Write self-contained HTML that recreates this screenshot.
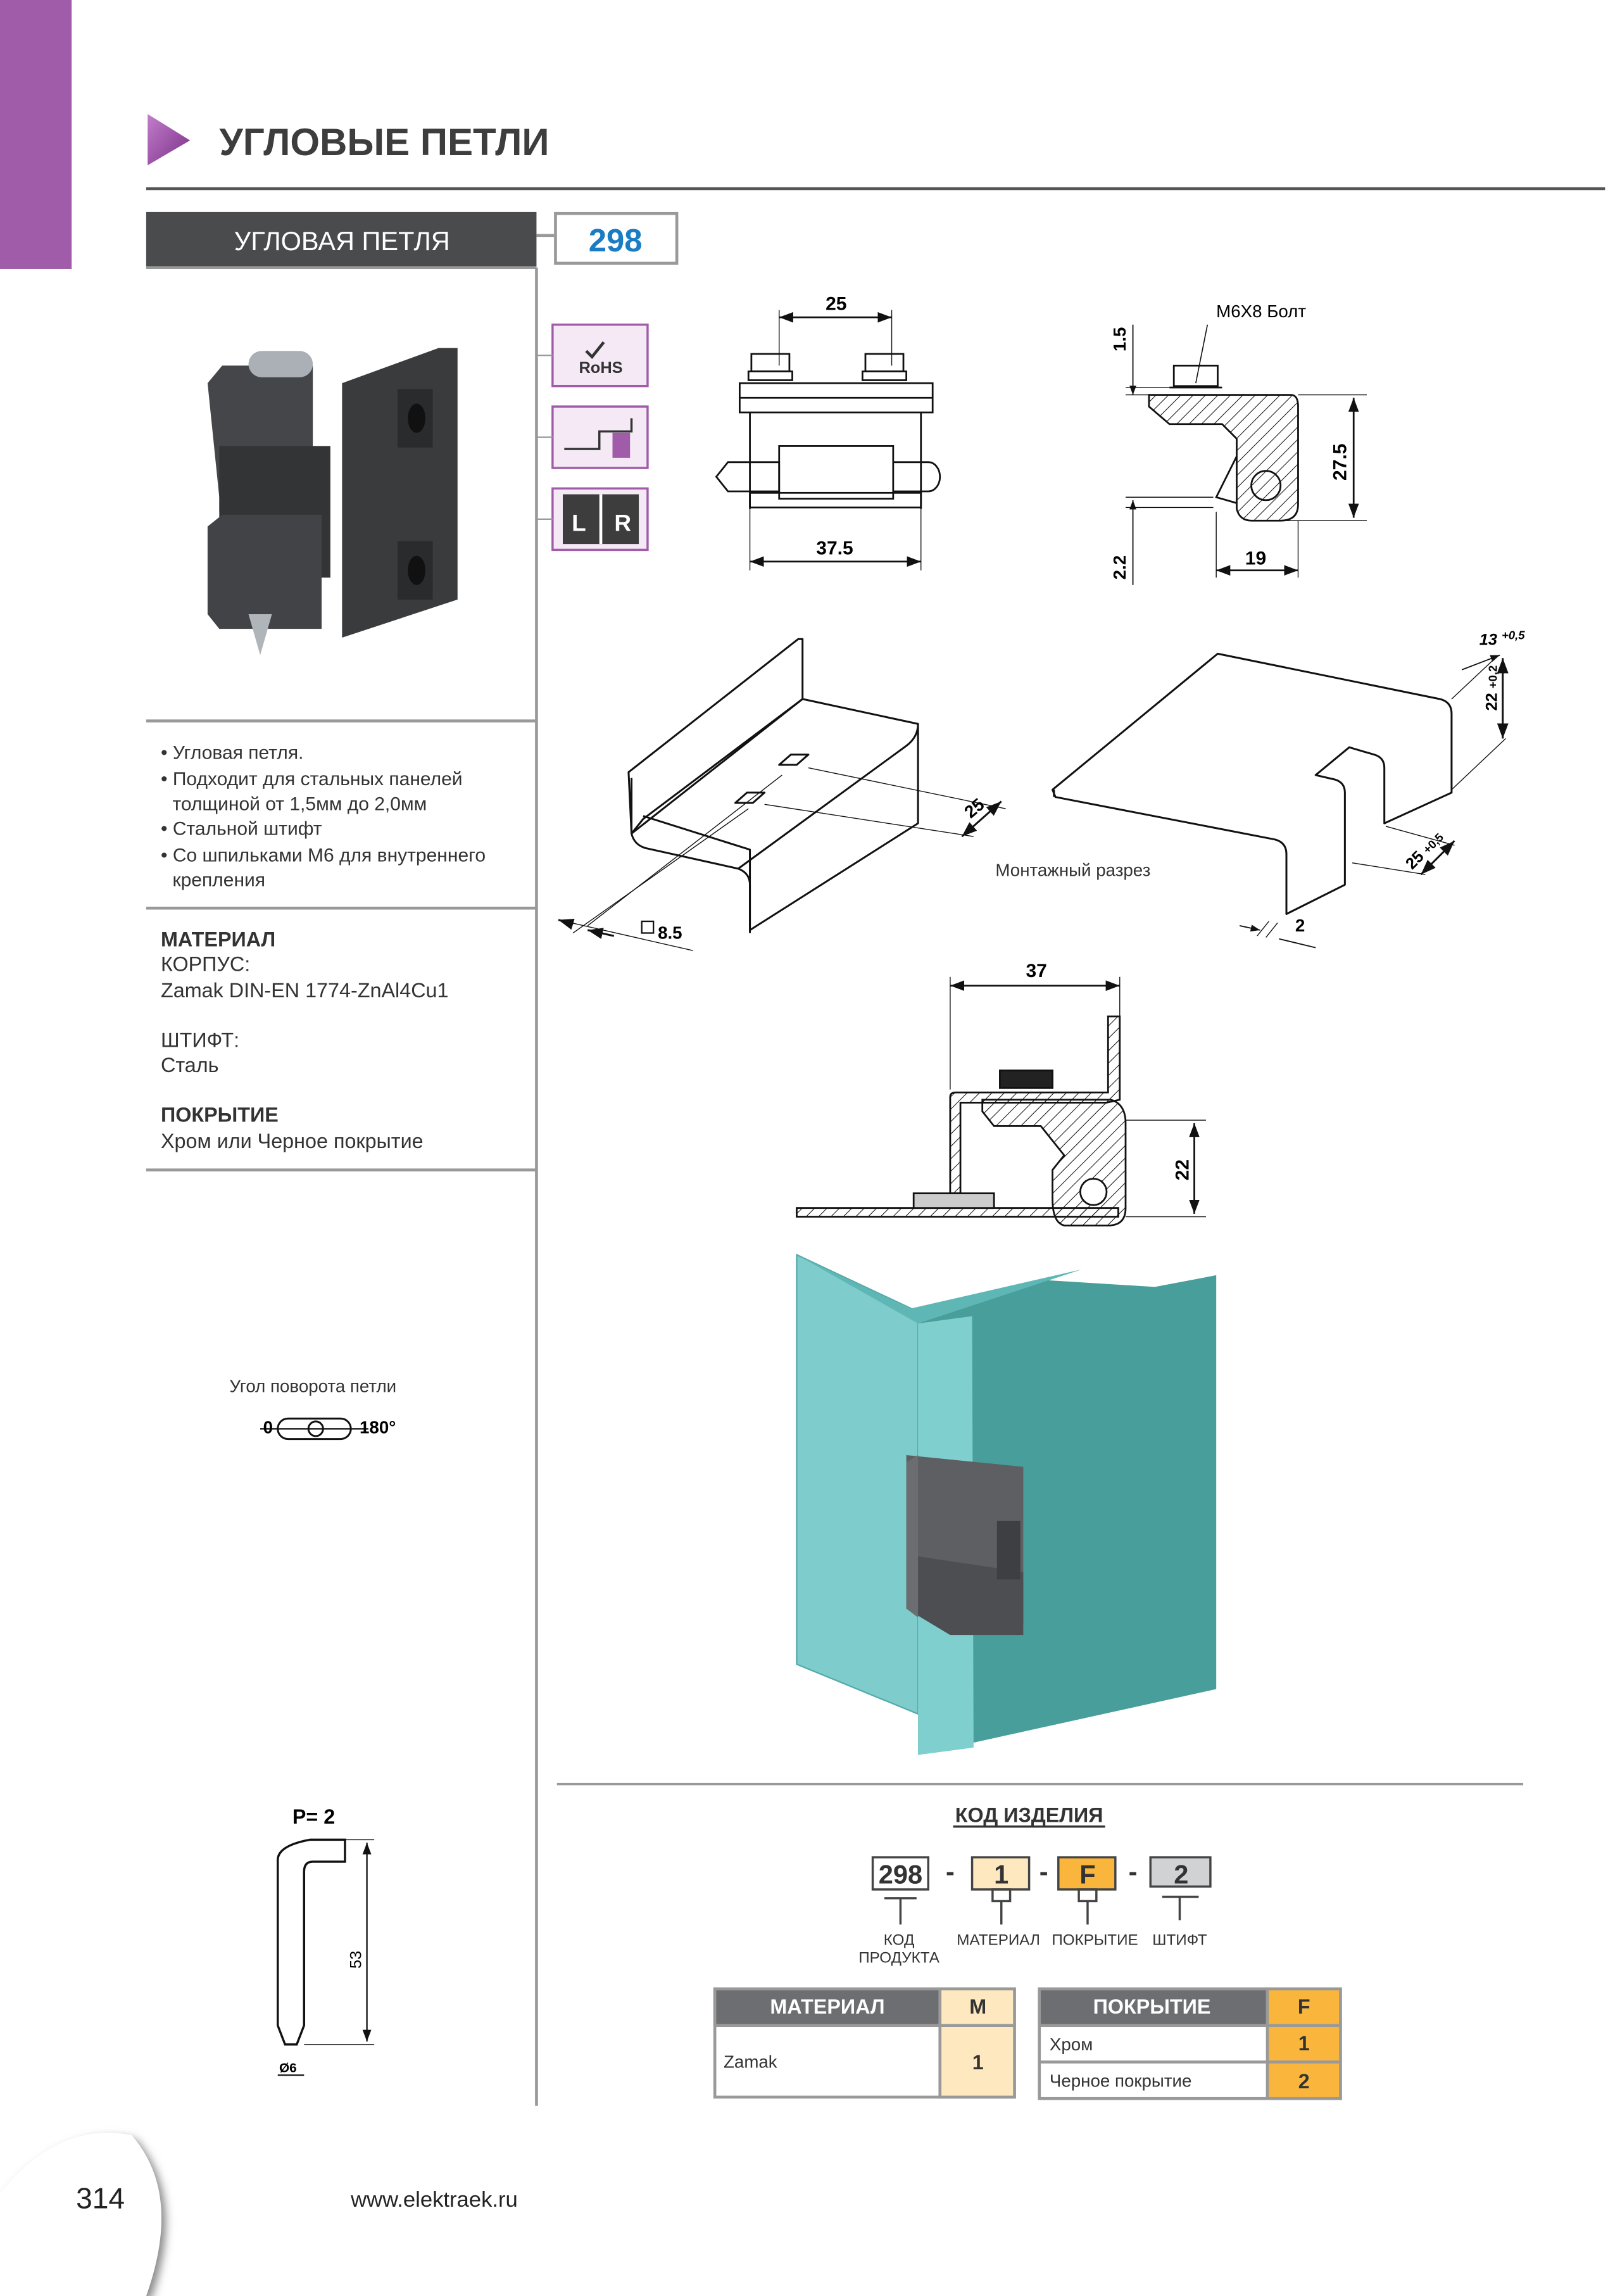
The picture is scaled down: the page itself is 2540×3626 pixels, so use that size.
<!DOCTYPE html>
<html><head><meta charset="utf-8"><style>
html,body{margin:0;padding:0;background:#fff}
svg{display:block}
text{font-family:"Liberation Sans",sans-serif}
</style></head><body>
<svg width="2540" height="3626" viewBox="0 0 1100 1570" preserveAspectRatio="none" xmlns="http://www.w3.org/2000/svg">
<defs>
<pattern id="h" width="6" height="6" patternUnits="userSpaceOnUse" patternTransform="rotate(45)"><line x1="0" y1="0" x2="0" y2="6" stroke="#111" stroke-width="0.9"/></pattern>
<linearGradient id="tg" x1="0" y1="0" x2="1" y2="1"><stop offset="0" stop-color="#c27ecb"/><stop offset="1" stop-color="#7a2f88"/></linearGradient>
<marker id="a" markerWidth="8" markerHeight="6" refX="8" refY="3" orient="auto-start-reverse"><path d="M0,0L8,3L0,6z" fill="#111"/></marker>
<filter id="sh"><feDropShadow dx="3" dy="3" stdDeviation="3" flood-color="#888"/></filter>
</defs>
<rect x="0" y="0" width="49" height="184" fill="#a05ca8"/>
<path d="M101,78L130,96L101,113z" fill="url(#tg)"/>
<text x="150" y="106" font-size="26" font-weight="bold" fill="#3d3d3d">УГЛОВЫЕ ПЕТЛИ</text>
<line x1="100" y1="129" x2="1098" y2="129" stroke="#555" stroke-width="2"/>
<rect x="100" y="145" width="267" height="38" fill="#4a4b4d"/>
<line x1="100" y1="183" x2="367" y2="183" stroke="#999" stroke-width="2"/>
<text x="234" y="171" font-size="18" fill="#fff" text-anchor="middle">УГЛОВАЯ ПЕТЛЯ</text>
<line x1="367" y1="161" x2="379" y2="161" stroke="#999" stroke-width="2"/>
<rect x="380" y="146" width="83" height="34" fill="#fff" stroke="#999" stroke-width="2"/>
<text x="421" y="172" font-size="22" font-weight="bold" fill="#1a7cc4" text-anchor="middle">298</text>
<line x1="367" y1="183" x2="367" y2="1440" stroke="#999" stroke-width="2"/>
<!-- icons -->
<g stroke="#a05ca8" stroke-width="1.5" fill="#f4e9f5">
<rect x="378" y="222" width="65" height="42"/><rect x="378" y="278" width="65" height="42"/><rect x="378" y="334" width="65" height="42"/>
</g>
<line x1="367" y1="243" x2="378" y2="243" stroke="#999"/><line x1="367" y1="299" x2="378" y2="299" stroke="#999"/><line x1="367" y1="355" x2="378" y2="355" stroke="#999"/>
<path d="M401,240l4,4l8,-10" stroke="#333" stroke-width="2" fill="none"/>
<text x="411" y="255" font-size="11" font-weight="bold" fill="#333" text-anchor="middle">RoHS</text>
<path d="M386,307H410V295H432V286" stroke="#333" stroke-width="1.5" fill="none"/>
<rect x="419" y="296" width="12" height="17" fill="#a05ca8"/>
<rect x="385" y="338" width="52" height="34" fill="#3d3d3d"/>
<line x1="411" y1="338" x2="411" y2="372" stroke="#fff" stroke-width="2"/>
<text x="396" y="363" font-size="16" font-weight="bold" fill="#fff" text-anchor="middle">L</text>
<text x="426" y="363" font-size="16" font-weight="bold" fill="#fff" text-anchor="middle">R</text>
<!-- product image -->
<g>
<path d="M234,262L300,238H313V410L234,436z" fill="#3a3b3d"/>
<path d="M142,262L152,250H214V350H150V340z" fill="#45464a"/>
<path d="M150,305H226V395H150z" fill="#333436"/>
<path d="M142,360L152,352H220V430H150L142,420z" fill="#424346"/>
<rect x="170" y="240" width="44" height="18" rx="9" fill="#aab0b5"/>
<path d="M170,420L178,448L186,420z" fill="#b0b5ba"/>
<path d="M272,266h24v40h-24z" fill="#2a2b2d"/><ellipse cx="285" cy="286" rx="6" ry="10" fill="#111"/>
<path d="M272,370h24v40h-24z" fill="#2a2b2d"/><ellipse cx="285" cy="390" rx="6" ry="10" fill="#111"/>
</g>
<line x1="100" y1="493" x2="367" y2="493" stroke="#999" stroke-width="2"/>
<g font-size="13" fill="#333">
<text x="110" y="519">• Угловая петля.</text>
<text x="110" y="537">• Подходит для стальных панелей</text>
<text x="118" y="554">толщиной от 1,5мм до 2,0мм</text>
<text x="110" y="571">• Стальной штифт</text>
<text x="110" y="589">• Со шпильками М6 для внутреннего</text>
<text x="118" y="606">крепления</text>
</g>
<line x1="100" y1="621" x2="367" y2="621" stroke="#999" stroke-width="2"/>
<g font-size="14" fill="#333">
<text x="110" y="647" font-weight="bold">МАТЕРИАЛ</text>
<text x="110" y="664">КОРПУС:</text>
<text x="110" y="682">Zamak DIN-EN 1774-ZnAl4Cu1</text>
<text x="110" y="716">ШТИФТ:</text>
<text x="110" y="733">Сталь</text>
<text x="110" y="767" font-weight="bold">ПОКРЫТИЕ</text>
<text x="110" y="785">Хром или Черное покрытие</text>
</g>
<line x1="100" y1="800" x2="367" y2="800" stroke="#999" stroke-width="2"/>
<text x="157" y="952" font-size="12" fill="#333">Угол поворота петли</text>
<rect x="190" y="970" width="50" height="14" rx="7" fill="none" stroke="#111" stroke-width="1.3"/>
<circle cx="216" cy="977" r="5" fill="none" stroke="#111" stroke-width="1.3"/>
<line x1="178" y1="977" x2="252" y2="977" stroke="#111"/>
<text x="180" y="980" font-size="12" font-weight="bold">0</text>
<text x="246" y="980" font-size="12" font-weight="bold">180°</text>
<!-- pin -->
<text x="200" y="1247" font-size="14" font-weight="bold">P= 2</text>
<path d="M190,1385V1272Q190,1262 212,1258H236V1273H214Q208,1273 208,1280V1385L203,1398H195z" fill="none" stroke="#111" stroke-width="1.5"/>
<line x1="236" y1="1258" x2="256" y2="1258" stroke="#111" stroke-width="0.6"/>
<line x1="208" y1="1398" x2="256" y2="1398" stroke="#111" stroke-width="0.6"/>
<line x1="251" y1="1260" x2="251" y2="1396" stroke="#111" marker-start="url(#a)" marker-end="url(#a)"/>
<text x="247" y="1340" font-size="11" transform="rotate(-90 247 1340)" text-anchor="middle">53</text>
<text x="191" y="1417" font-size="9" font-weight="bold">Ø6</text>
<line x1="190" y1="1419" x2="208" y2="1419" stroke="#111"/>
<!-- footer -->
<path d="M0,1570V1500Q40,1450 90,1460Q125,1500 100,1570z" fill="#fff" filter="url(#sh)"/>
<text x="52" y="1510" font-size="20" fill="#222">314</text>
<text x="240" y="1509" font-size="15" fill="#222">www.elektraek.ru</text>

<!-- Top drawing 1 -->
<g stroke="#111" stroke-width="1.2" fill="none">
<line x1="533" y1="217" x2="610" y2="217" marker-start="url(#a)" marker-end="url(#a)"/>
<line x1="533" y1="212" x2="533" y2="250" stroke-width="0.6"/><line x1="610" y1="212" x2="610" y2="250" stroke-width="0.6"/>
<rect x="506" y="262" width="132" height="20"/><line x1="506" y1="272" x2="638" y2="272"/>
<rect x="514" y="242" width="26" height="12"/><rect x="592" y="242" width="26" height="12"/>
<rect x="512" y="254" width="30" height="6"/><rect x="590" y="254" width="30" height="6"/>
<line x1="513" y1="282" x2="513" y2="348"/><line x1="630" y1="282" x2="630" y2="348"/>
<rect x="533" y="305" width="78" height="36"/>
<path d="M498,316H533V336H498L490,326z"/>
<path d="M611,316H635a8,10 0 0 1 0,20H611"/>
<rect x="513" y="337" width="117" height="10"/>
<line x1="513" y1="348" x2="513" y2="390" stroke-width="0.6"/><line x1="630" y1="348" x2="630" y2="390" stroke-width="0.6"/>
<line x1="513" y1="384" x2="630" y2="384" marker-start="url(#a)" marker-end="url(#a)"/>
</g>
<text x="572" y="212" font-size="13" font-weight="bold" text-anchor="middle">25</text>
<text x="571" y="379" font-size="13" font-weight="bold" text-anchor="middle">37.5</text>
<!-- Top drawing 2 -->
<g stroke="#111" stroke-width="1.2" fill="none">
<path d="M786,270H883Q888,270 888,278V345Q888,356 876,356H856Q848,356 846,348V300L836,290H800L786,278z" fill="url(#h)"/>
<rect x="803" y="250" width="30" height="14"/><line x1="800" y1="265" x2="836" y2="265"/>
<circle cx="866" cy="332" r="10"/>
<path d="M846,312L832,340L846,344" />
<line x1="775" y1="222" x2="775" y2="270" marker-end="url(#a)" stroke-width="0.8"/>
<line x1="775" y1="400" x2="775" y2="342" marker-end="url(#a)" stroke-width="0.8"/>
<line x1="770" y1="265" x2="800" y2="265" stroke-width="0.6"/><line x1="770" y1="270" x2="786" y2="270" stroke-width="0.6"/>
<line x1="770" y1="340" x2="830" y2="340" stroke-width="0.6"/><line x1="770" y1="347" x2="830" y2="347" stroke-width="0.6"/>
<line x1="888" y1="270" x2="935" y2="270" stroke-width="0.6"/><line x1="876" y1="356" x2="935" y2="356" stroke-width="0.6"/>
<line x1="926" y1="272" x2="926" y2="354" marker-start="url(#a)" marker-end="url(#a)"/>
<line x1="832" y1="350" x2="832" y2="395" stroke-width="0.6"/><line x1="888" y1="356" x2="888" y2="395" stroke-width="0.6"/>
<line x1="832" y1="390" x2="888" y2="390" marker-start="url(#a)" marker-end="url(#a)"/>
<line x1="818" y1="262" x2="826" y2="222" stroke-width="0.7"/>
</g>
<text x="832" y="217" font-size="12">M6X8  Болт</text>
<text x="770" y="232" font-size="12" font-weight="bold" transform="rotate(-90 770 232)" text-anchor="middle">1.5</text>
<text x="770" y="388" font-size="12" font-weight="bold" transform="rotate(-90 770 388)" text-anchor="middle">2.2</text>
<text x="921" y="316" font-size="13" font-weight="bold" transform="rotate(-90 921 316)" text-anchor="middle">27.5</text>
<text x="859" y="386" font-size="13" font-weight="bold" text-anchor="middle">19</text>
<!-- Iso 1 -->
<g stroke="#111" stroke-width="1.3" fill="none" stroke-linejoin="round">
<path d="M430,528L546,437H549V478L432,570Z"/>
<path d="M432,570L440,560L549,478L628,495V563L513,636V581L440,558"/>
<path d="M432,532V570Q434,578 442,580L505,594Q513,597 513,605V638"/>
<path d="M505,594L620,510Q628,504 628,495"/>
<path d="M533,523l8,-7h12l-8,7z M503,549l8,-7h12l-8,7z"/>
<line x1="553" y1="525" x2="688" y2="553" stroke-width="0.6"/><line x1="523" y1="550" x2="666" y2="572" stroke-width="0.6"/>
<line x1="685" y1="548" x2="658" y2="572" marker-start="url(#a)" marker-end="url(#a)"/>
<line x1="512" y1="553" x2="392" y2="638" stroke-width="0.6"/><line x1="535" y1="530" x2="402" y2="633" stroke-width="0.6"/>
<line x1="382" y1="629" x2="474" y2="650" stroke-width="0.6"/>
<line x1="392" y1="632" x2="382" y2="629" marker-end="url(#a)"/><line x1="420" y1="640" x2="402" y2="636" marker-end="url(#a)"/>
</g>
<text x="664" y="560" font-size="12" font-weight="bold" transform="rotate(-40 664 560)">25</text>
<rect x="439" y="630" width="8" height="8" fill="none" stroke="#111"/>
<text x="450" y="642" font-size="12" font-weight="bold">8.5</text>
<text x="734" y="599" font-size="12" fill="#333" text-anchor="middle">Монтажный разрез</text>
<!-- Iso 2 -->
<g stroke="#111" stroke-width="1.3" fill="none" stroke-linejoin="round">
<path d="M720,540L833,447L985,478Q993,480 993,488V542L947,563V525Q947,518 940,516L923,511L900,530L913,533Q920,535 920,542V605L880,625V584Q880,576 872,574L722,545Z"/>
<path d="M721,540V545"/>
<line x1="993" y1="478" x2="1025" y2="448" stroke-width="0.6"/><line x1="993" y1="540" x2="1030" y2="505" stroke-width="0.6"/>
<line x1="1028" y1="450" x2="1028" y2="505" marker-start="url(#a)" marker-end="url(#a)"/>
<line x1="1000" y1="458" x2="1026" y2="448" stroke-width="0.8" marker-end="url(#a)"/>
<line x1="948" y1="565" x2="995" y2="578" stroke-width="0.6"/><line x1="925" y1="590" x2="975" y2="598" stroke-width="0.6"/>
<line x1="995" y1="575" x2="972" y2="598" marker-start="url(#a)" marker-end="url(#a)"/>
<line x1="848" y1="633" x2="862" y2="636" marker-end="url(#a)" stroke-width="0.8"/>
<line x1="875" y1="642" x2="900" y2="648" stroke-width="0.8"/>
<line x1="860" y1="640" x2="868" y2="630" stroke-width="0.6"/><line x1="866" y1="641" x2="874" y2="631" stroke-width="0.6"/>
</g>
<text x="1012" y="441" font-size="11" font-weight="bold" font-style="italic">13 <tspan font-size="8" dy="-4">+0,5</tspan></text>
<text x="1024" y="486" font-size="11" font-weight="bold" transform="rotate(-90 1024 486)">22 <tspan font-size="8">+0,2</tspan></text>
<text x="966" y="595" font-size="11" font-weight="bold" transform="rotate(-45 966 595)">25 <tspan font-size="8">+0,5</tspan></text>
<text x="886" y="637" font-size="12" font-weight="bold">2</text>
<!-- Section drawing -->
<g stroke="#111" stroke-width="1.2" fill="none">
<line x1="650" y1="674" x2="766" y2="674" marker-start="url(#a)" marker-end="url(#a)"/>
<line x1="650" y1="668" x2="650" y2="745" stroke-width="0.6"/><line x1="766" y1="668" x2="766" y2="700" stroke-width="0.6"/>
<path d="M545,826H765V832H545z" fill="url(#h)"/>
<rect x="625" y="816" width="55" height="10" fill="#ccc"/>
<path d="M650,816V750Q650,747 654,747H758V695H766V752L757,754H657V816z" fill="url(#h)"/>
<path d="M672,752H760Q770,755 770,768V826Q770,838 758,838H728Q720,836 720,820V800L728,790L712,770H680L672,760z" fill="url(#h)"/>
<circle cx="748" cy="815" r="9" fill="#fff"/>
<rect x="684" y="732" width="36" height="12" fill="#222"/>
<line x1="770" y1="766" x2="825" y2="766" stroke-width="0.6"/><line x1="770" y1="832" x2="825" y2="832" stroke-width="0.6"/>
<line x1="817" y1="768" x2="817" y2="830" marker-start="url(#a)" marker-end="url(#a)"/>
</g>
<text x="709" y="668" font-size="13" font-weight="bold" text-anchor="middle">37</text>
<text x="813" y="800" font-size="13" font-weight="bold" transform="rotate(-90 813 800)" text-anchor="middle">22</text>
<!-- Teal enclosure -->
<g>
<path d="M545,858L628,897V1172L545,1138z" fill="#7ecccc" stroke="#5aa" stroke-width="1"/>
<path d="M628,897L710,875L790,880L832,872V1155L628,1200z" fill="#479e9a"/>
<path d="M628,905L665,900L666,1195L628,1200z" fill="#7fcfcf"/>
<path d="M545,858L622,895L740,868L628,905z" fill="#5fb7b5"/>
<path d="M620,995L700,1003V1110L620,1100z" fill="#5e5f62"/>
<path d="M620,1063L700,1075V1118L650,1118L620,1100z" fill="#4d4e51"/>
<path d="M682,1040h16v40h-16z" fill="#3e3f42"/>
<path d="M628,995L620,1000V1100L628,1106z" fill="#6c6d70"/>
</g>
<!-- Code section -->
<line x1="381" y1="1220" x2="1042" y2="1220" stroke="#999" stroke-width="1.5"/>
<text x="704" y="1246" font-size="14" font-weight="bold" fill="#333" text-anchor="middle">КОД ИЗДЕЛИЯ</text>
<line x1="652" y1="1249" x2="756" y2="1249" stroke="#333" stroke-width="1.5"/>
<g stroke="#444" stroke-width="1.5">
<rect x="597" y="1270" width="38" height="22" fill="#fff"/>
<rect x="665" y="1270" width="39" height="22" fill="#fde8c0"/>
<rect x="724" y="1270" width="39" height="22" fill="#f9b53c"/>
<rect x="787" y="1270" width="41" height="20" fill="#d1d2d4"/>
<line x1="605" y1="1298" x2="627" y2="1298"/><line x1="616" y1="1298" x2="616" y2="1316"/>
<rect x="679" y="1292" width="12" height="8" fill="none"/><line x1="685" y1="1300" x2="685" y2="1316"/>
<rect x="738" y="1292" width="12" height="8" fill="none"/><line x1="744" y1="1300" x2="744" y2="1316"/>
<line x1="795" y1="1297" x2="820" y2="1297"/><line x1="807" y1="1297" x2="807" y2="1313"/>
</g>
<g font-size="18" font-weight="bold" fill="#333" text-anchor="middle">
<text x="616" y="1288">298</text><text x="685" y="1288">1</text><text x="744" y="1288">F</text><text x="808" y="1288">2</text>
<text x="650" y="1286">-</text><text x="714" y="1286">-</text><text x="775" y="1286">-</text>
</g>
<g font-size="10.5" fill="#333" text-anchor="middle">
<text x="615" y="1330">КОД</text><text x="615" y="1342">ПРОДУКТА</text>
<text x="683" y="1330">МАТЕРИАЛ</text><text x="749" y="1330">ПОКРЫТИЕ</text><text x="807" y="1330">ШТИФТ</text>
</g>
<!-- tables -->
<g stroke="#999" stroke-width="2">
<rect x="489" y="1360" width="205" height="74" fill="#fff"/>
<rect x="489" y="1360" width="154" height="25" fill="#6d6e71"/>
<rect x="643" y="1360" width="51" height="74" fill="#fde8c0"/>
<line x1="489" y1="1385" x2="694" y2="1385"/>
<rect x="711" y="1360" width="206" height="75" fill="#fff"/>
<rect x="711" y="1360" width="156" height="25" fill="#6d6e71"/>
<rect x="867" y="1360" width="50" height="75" fill="#f9b53c"/>
<line x1="711" y1="1385" x2="917" y2="1385"/><line x1="711" y1="1410" x2="917" y2="1410"/>
</g>
<g fill="#fff" font-size="14" font-weight="bold" text-anchor="middle">
<text x="566" y="1377">МАТЕРИАЛ</text><text x="788" y="1377">ПОКРЫТИЕ</text>
</g>
<g fill="#333" font-size="14" font-weight="bold" text-anchor="middle">
<text x="669" y="1377">M</text><text x="892" y="1377">F</text>
<text x="669" y="1415">1</text><text x="892" y="1402">1</text><text x="892" y="1428">2</text>
</g>
<g fill="#333" font-size="12">
<text x="495" y="1414">Zamak</text><text x="718" y="1402">Хром</text><text x="718" y="1427">Черное покрытие</text>
</g>
</svg>
</body></html>
